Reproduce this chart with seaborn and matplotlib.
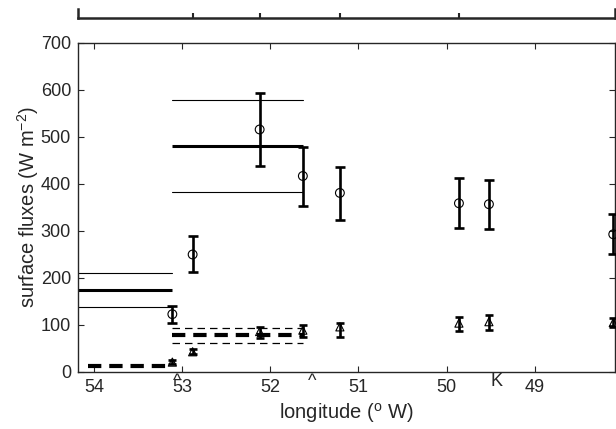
import numpy as np
import pandas as pd
import matplotlib
matplotlib.use("Agg")
import matplotlib.pyplot as plt
import matplotlib.transforms as mtransforms
import seaborn as sns

# ---------------- data ----------------
station_lon = [53.11, 52.88, 52.12, 51.63, 51.21, 49.86, 49.52, 48.11]
total_flux = [123, 250, 516, 417, 381, 359, 357, 293]
total_lo = [104, 212, 438, 354, 324, 306, 304, 250]
total_hi = [141, 289, 594, 479, 436, 412, 409, 336]
sens_flux = [21, 43, 86, 89, 96, 104, 107, 105]
sens_lo = [17, 38, 72, 75, 75, 88, 89, 95]
sens_hi = [25, 48, 96, 101, 105, 118, 121, 115]

# segment averages (solid: total, dashed: sensible)
seg_start = [54.18, 53.11]
seg_end = [53.11, 51.63]
seg_mean = [175, 481]
seg_lo = [138, 384]
seg_hi = [211, 578]
dash_start = [54.07, 53.11]
dash_end = [53.11, 51.63]
dash_mean = [13, 79]
dash_lo_right = 61
dash_hi_right = 94

xticks = [54, 53, 52, 51, 50, 49]
yticks = [0, 100, 200, 300, 400, 500, 600, 700]
upper_ticks = [52.88, 52.12, 51.21, 49.86]
annot_lon = [53.05, 51.53, 49.43]
annot_txt = ["^", "^", "K"]

# ---------------- style ----------------
sns.set_style("ticks")
plt.rcParams["font.family"] = ["Liberation Sans", "DejaVu Sans"]
plt.rcParams["mathtext.fontset"] = "custom"
plt.rcParams["mathtext.rm"] = "Liberation Sans"
plt.rcParams["mathtext.it"] = "Liberation Sans:italic"
FS = 13
FL = 14.5

fig = plt.figure(figsize=(6.16, 4.29), dpi=100)
ax = fig.add_axes([0.1266, 0.1329, 0.8718, 0.7669])

XL = (54.18, 48.09)

# segment lines
for s, e, m, lo, hi in zip(seg_start, seg_end, seg_mean, seg_lo, seg_hi):
    ax.plot([s, e], [m, m], color="black", lw=2.2, solid_capstyle="butt")
    ax.plot([s, e], [lo, lo], color="black", lw=0.8)
    ax.plot([s, e], [hi, hi], color="black", lw=0.8)
for s, e, m in zip(dash_start, dash_end, dash_mean):
    ax.plot([s, e], [m, m], color="black", lw=3.0, dashes=(3.2, 1.9),
            solid_capstyle="butt", dash_capstyle="butt")
ax.plot([dash_start[1], dash_end[1]], [dash_lo_right] * 2, color="black",
        lw=0.9, dashes=(6, 4))
ax.plot([dash_start[1], dash_end[1]], [dash_hi_right] * 2, color="black",
        lw=0.9, dashes=(6, 4))

# error bars
tf = np.array(total_flux)
ax.errorbar(station_lon, tf,
            yerr=[tf - np.array(total_lo), np.array(total_hi) - tf],
            fmt="none", ecolor="black", elinewidth=1.9, capsize=3.6,
            capthick=1.9, zorder=3)
sf = np.array(sens_flux)
ax.errorbar(station_lon, sf,
            yerr=[sf - np.array(sens_lo), np.array(sens_hi) - sf],
            fmt="none", ecolor="black", elinewidth=1.9, capsize=3.2,
            capthick=1.9, zorder=3)

df = pd.DataFrame({"lon": station_lon, "total": total_flux,
                   "sens": sens_flux})
sns.scatterplot(data=df, x="lon", y="total", ax=ax, marker="o", s=40,
                facecolors="none", edgecolor="black", linewidth=0.8,
                zorder=4, clip_on=False)
sns.scatterplot(data=df, x="lon", y="sens", ax=ax, marker="^", s=34,
                facecolors="none", edgecolor="black", linewidth=0.8,
                zorder=4, clip_on=False)

ax.set_xlim(*XL)
ax.set_ylim(0, 700)
ax.set_xticks(xticks)
ax.set_xticklabels([str(t) for t in xticks])
ax.set_yticks(yticks)
ax.tick_params(direction="in", top=True, right=True, length=4, width=0.8,
               labelsize=FS, pad=5)
for sp in ax.spines.values():
    sp.set_visible(True)
    sp.set_linewidth(1.0)
ax.set_xlabel("longitude ($^{\\mathrm{o}}$ W)", fontsize=FL, labelpad=4)
ax.set_ylabel("surface fluxes (W m$^{-2}$)", fontsize=FL, labelpad=0)

trans = mtransforms.blended_transform_factory(ax.transData, ax.transAxes)
for lon, t in zip(annot_lon, annot_txt):
    ax.text(lon, -0.003, t, transform=trans, ha="center", va="top",
            fontsize=FS)

# upper panel bottom axis
ax2 = fig.add_axes([0.1266, 0.9587, 0.8718, 0.021])
ax2.set_xlim(*XL)
ax2.set_ylim(0, 1)
ax2.set_xticks(upper_ticks)
ax2.set_xticklabels([])
ax2.set_yticks([])
ax2.tick_params(axis="x", direction="in", length=3.5, width=1.5)
ax2.spines["top"].set_visible(False)
for k in ["bottom", "left", "right"]:
    ax2.spines[k].set_visible(True)
    ax2.spines[k].set_linewidth(1.8)
ax2.patch.set_alpha(0)

fig.savefig("out.png", dpi=100)
